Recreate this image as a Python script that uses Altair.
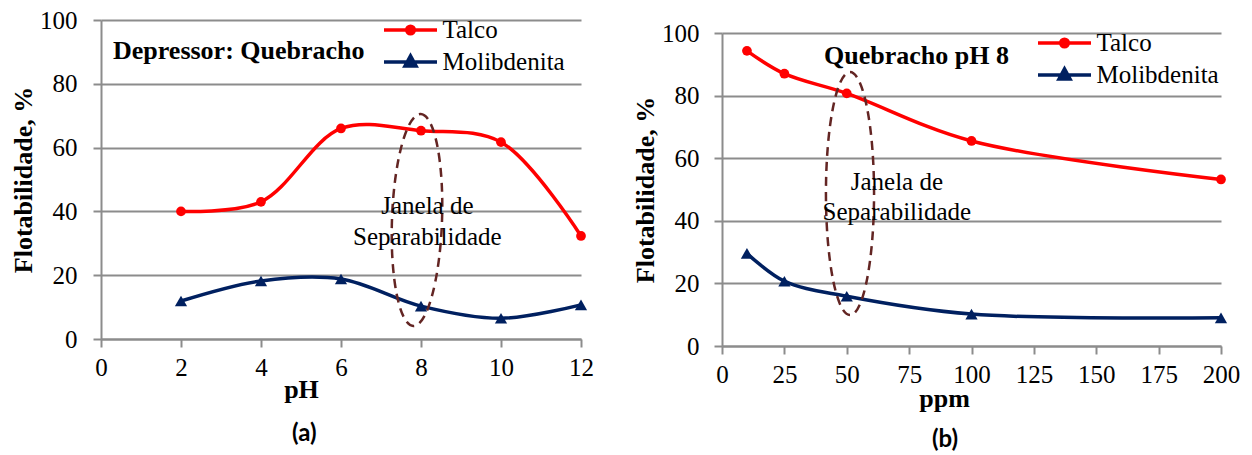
import altair as alt
import pandas as pd

# ---------------- data ----------------
series = ["Talco", "Molibdenita"]
colors = ["#ff0000", "#002060"]

ph = [2, 4, 6, 8, 10, 12]
talco_ph = [40.0, 43.0, 66.0, 65.3, 61.7, 32.3]
molib_ph = [11.9, 18.2, 18.8, 10.3, 6.5, 10.7]

ppm = [10, 25, 50, 100, 200]
talco_ppm = [94.3, 87.0, 80.7, 65.5, 53.2]
molib_ppm = [29.6, 20.7, 15.9, 10.2, 9.0]

ph_ticks = [0, 2, 4, 6, 8, 10, 12]
ppm_ticks = [0, 25, 50, 75, 100, 125, 150, 175, 200]
y_ticks = [0, 20, 40, 60, 80, 100]

note_a_text = ["Depressor: Quebracho"]
note_a_x = [0.3]
note_a_y = [87.8]
note_b_text = ["Quebracho pH 8"]
note_b_x = [40.9]
note_b_y = [90.1]

janela_text = ["Janela de", "Separabilidade"]
janela_a_x = [8.16, 8.16]
janela_a_y = [39.2, 29.5]
janela_b_x = [70.1, 70.1]
janela_b_y = [49.8, 40.3]

ellipse_a_x = [7.9]
ellipse_a_y = [37.3]
ellipse_b_x = [51.3]
ellipse_b_y = [48.7]

# ---------------- styles ----------------
SERIF = "Liberation Serif, Times New Roman, serif"
GRAY = "#8c8c8c"
BROWN = "#632523"
K = 0.5523


def ellipse_path(a, b=1.0, cx=0.0, cy=0.0):
    return (
        f"M{cx},{cy-b}"
        f"C{cx+a*K},{cy-b} {cx+a},{cy-b*K} {cx+a},{cy}"
        f"C{cx+a},{cy+b*K} {cx+a*K},{cy+b} {cx},{cy+b}"
        f"C{cx-a*K},{cy+b} {cx-a},{cy+b*K} {cx-a},{cy}"
        f"C{cx-a},{cy-b*K} {cx-a*K},{cy-b} {cx},{cy-b}Z"
    )


talco_sym = "M-2.65,0L2.65,0" + ellipse_path(0.38, 0.38)
molib_sym = "M-2.65,0L2.65,0M-0.55,0.4L0,-0.6L0.55,0.4Z"


def panel(xv, talco, molib, xtitle, xdomain, xticks, w, h,
          note, nx, ny, jx, jy, ex, ey, e_rx, e_size, e_angle,
          leg_x, leg_y, title_text, title_dx, title_offset,
          xt_x, xt_y, ylab_pad):
    n = len(xv)
    df = pd.DataFrame({"x": list(xv) * 2, "y": list(talco) + list(molib),
                       "serie": ["Talco"] * n + ["Molibdenita"] * n})
    xenc = alt.X("x:Q", scale=alt.Scale(domain=xdomain, nice=False, zero=False),
                 axis=alt.Axis(values=xticks, grid=False, title=xtitle,
                               domainColor=GRAY, domainWidth=2, tickColor=GRAY,
                               tickWidth=2, tickSize=8, labelFont=SERIF,
                               labelFontSize=25, labelColor="black", labelPadding=8,
                               labelFlush=False, labelOverlap=False,
                               titleFont=SERIF, titleFontSize=26,
                               titleFontWeight="bold", titleColor="black",
                               titleX=xt_x, titleY=xt_y, titleBaseline="alphabetic"))
    yenc = alt.Y("y:Q", scale=alt.Scale(domain=[0, 100], nice=False),
                 axis=alt.Axis(values=y_ticks, grid=True, gridColor=GRAY, gridWidth=2,
                               title="Flotabilidade, %", domainColor=GRAY, domainWidth=2,
                               tickColor=GRAY, tickWidth=2, tickSize=8,
                               labelFont=SERIF, labelFontSize=25, labelColor="black",
                               labelPadding=ylab_pad, titleFont=SERIF, titleFontSize=26,
                               titleFontWeight="bold", titleColor="black", titlePadding=3))
    cscale = alt.Scale(domain=series, range=colors)
    leg = alt.Legend(title=None, orient="none", legendX=leg_x, legendY=leg_y,
                     symbolSize=400, symbolStrokeWidth=3.5, symbolOpacity=1,
                     labelFont=SERIF, labelFontSize=25, labelColor="black",
                     labelOffset=19.5, rowPadding=5, padding=0)
    legl = alt.Chart(df).mark_point(filled=True, size=1, strokeWidth=0, opacity=1).encode(
        x=xenc, y=yenc,
        fill=alt.Fill("serie:N", scale=alt.Scale(domain=series, range=colors), legend=leg),
        stroke=alt.Stroke("serie:N", scale=alt.Scale(domain=series, range=colors), legend=leg),
        shape=alt.Shape("serie:N", scale=alt.Scale(domain=series, range=[talco_sym, molib_sym]),
                        legend=leg))
    lines = alt.Chart(df).mark_line(interpolate="catmull-rom", strokeWidth=3.5).encode(
        x="x:Q", y="y:Q", color=alt.Color("serie:N", scale=cscale, legend=None))
    pts_t = alt.Chart(df).transform_filter(alt.datum.serie == "Talco").mark_point(
        shape="circle", filled=True, size=95, opacity=1, color=colors[0]).encode(
        x="x:Q", y="y:Q")
    pts_m = alt.Chart(df).transform_filter(alt.datum.serie == "Molibdenita").mark_point(
        shape="triangle-up", filled=True, size=150, opacity=1, color=colors[1]).encode(
        x="x:Q", y="y:Q")
    ell = alt.Chart(pd.DataFrame({"x": ex, "y": ey})).mark_point(
        shape=ellipse_path(e_rx), size=e_size, angle=e_angle, filled=False,
        color=BROWN, strokeWidth=2.5, strokeDash=[9, 6], opacity=1).encode(
        x="x:Q", y="y:Q")
    nt = alt.Chart(pd.DataFrame({"x": nx, "y": ny, "t": note})).mark_text(
        font=SERIF, fontSize=26, fontWeight="bold", align="left",
        baseline="alphabetic", color="black").encode(x="x:Q", y="y:Q", text="t:N")
    jt = alt.Chart(pd.DataFrame({"x": jx, "y": jy, "t": janela_text})).mark_text(
        font=SERIF, fontSize=25, align="center", baseline="alphabetic",
        color="black").encode(x="x:Q", y="y:Q", text="t:N")
    return alt.layer(legl, lines, pts_t, pts_m, ell, jt, nt).properties(
        width=w, height=h,
        title=alt.TitleParams(title_text, orient="bottom", anchor="start", frame="group",
                              dx=title_dx, offset=title_offset, font="Lato",
                              fontSize=24, fontWeight="bold", color="black"))


pa = panel(ph, talco_ph, molib_ph, "pH", [0, 12], ph_ticks, 480, 319,
           note_a_text, note_a_x, note_a_y, janela_a_x, janela_a_y,
           ellipse_a_x, ellipse_a_y, 0.236, 212 ** 2, 2,
           297, -2.5, "(a)", 191, 20, 200, 58, 16)
pb = panel(ppm, talco_ppm, molib_ppm, "ppm", [0, 200], ppm_ticks, 499, 313,
           note_b_text, note_b_x, note_b_y, janela_b_x, janela_b_y,
           ellipse_b_x, ellipse_b_y, 0.198, 243 ** 2, 0,
           330, -2.5, "(b)", 210, 17, 222, 60, 15)

spacer = alt.Chart(pd.DataFrame({"v": [0]})).mark_point(opacity=0, size=0).encode(
    x=alt.value(0), y=alt.value(0)).properties(width=499, height=1)

res = dict(color="independent", fill="independent", stroke="independent",
           shape="independent")
right = alt.vconcat(spacer, pb, spacing=0).resolve_scale(**res)
chart = alt.hconcat(pa, right, spacing=38).resolve_scale(**res).properties(
    padding={"left": 2, "top": 0, "right": 0, "bottom": 0}
).configure_view(stroke=None)

chart.save("out.html", embed_options={"renderer": "svg", "actions": False})
